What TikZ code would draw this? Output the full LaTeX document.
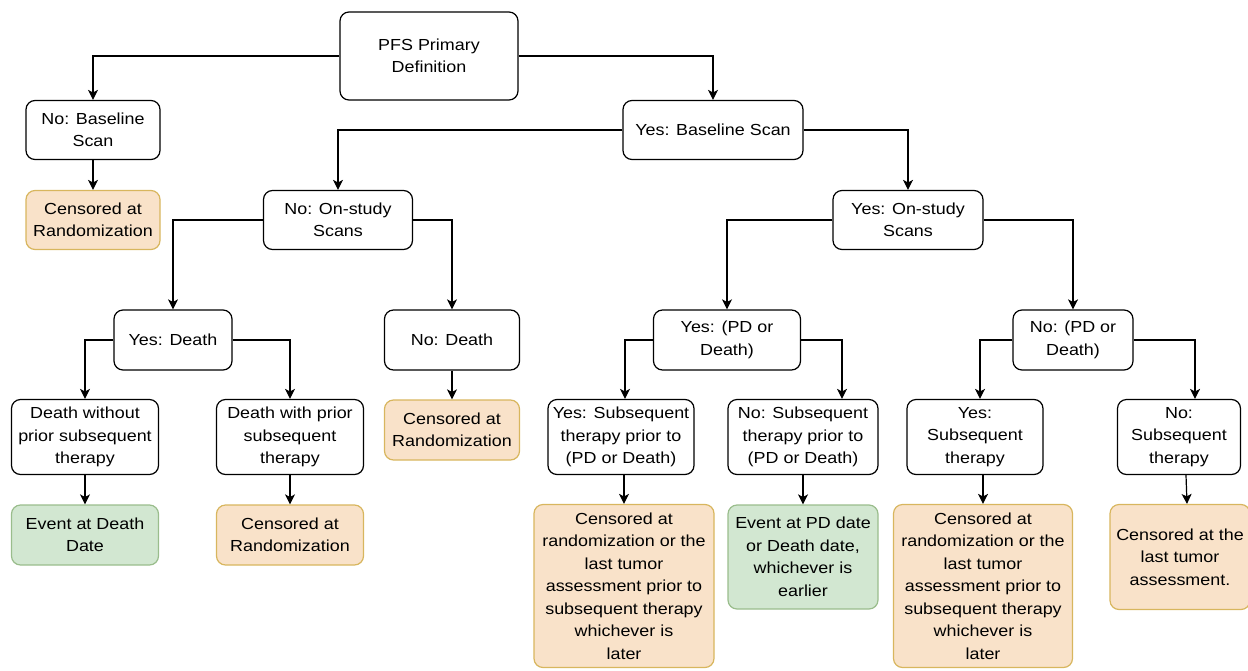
\documentclass[tikz,border=0pt]{standalone}
\usepackage{fontspec}
\setmainfont{Liberation Sans}[FakeStretch=1.12]
\usetikzlibrary{arrows.meta}
\definecolor{censfill}{HTML}{F9E2C9}
\definecolor{censline}{HTML}{D8B65E}
\definecolor{evtfill}{HTML}{D2E7D1}
\definecolor{evtline}{HTML}{9ABD8C}

\begin{document}
\begin{tikzpicture}[x=1pt, y=-1pt,
  box/.style={draw, line width=1.2pt, rounded corners=9pt, align=center, inner sep=0pt,
    fill=white, font=\fontsize{16}{22.5}\selectfont},
  cens/.style={box, draw=censline, fill=censfill},
  evt/.style={box, draw=evtline, fill=evtfill},
  arr/.style={line width=1.2pt, -{Stealth[length=10pt,width=10pt,inset=2.5pt]}}]
  \useasboundingbox (0,0) rectangle (1248,670);

  \node[box, minimum width=178pt, minimum height=88pt] (pfs) at (429,56) {PFS Primary\\Definition};
  \node[box, minimum width=134pt, minimum height=59pt] (nbs) at (93,130) {No: Baseline\\Scan};
  \node[cens, minimum width=134pt, minimum height=59pt] (c1) at (93,220) {Censored at\\Randomization};
  \node[box, minimum width=180pt, minimum height=59pt] (ybs) at (713,130) {Yes: Baseline Scan};
  \node[box, minimum width=149pt, minimum height=59pt] (nos) at (338,220) {No: On-study\\Scans};
  \node[box, minimum width=150pt, minimum height=59pt] (yos) at (908,220) {Yes: On-study\\Scans};

  % left branch
  \node[box, minimum width=118pt, minimum height=60pt] (yd) at (173,340) {Yes: Death};
  \node[box, minimum width=135pt, minimum height=60pt] (nd) at (452,340) {No: Death};
  \node[box, minimum width=147pt, minimum height=75pt] (dwo) at (85,437) {Death without\\prior subsequent\\therapy};
  \node[box, minimum width=147pt, minimum height=75pt] (dw) at (290,437) {Death with prior\\subsequent\\therapy};
  \node[cens, minimum width=135pt, minimum height=60pt] (c2) at (452,430) {Censored at\\Randomization};
  \node[evt, minimum width=147pt, minimum height=60pt] (e1) at (85,535) {Event at Death\\Date};
  \node[cens, minimum width=147pt, minimum height=60pt] (c3) at (290,535) {Censored at\\Randomization};

  % right branch
  \node[box, minimum width=147pt, minimum height=60pt] (ypd) at (727,340) {Yes: (PD or\\Death)};
  \node[box, minimum width=120pt, minimum height=60pt] (npd) at (1073,340) {No: (PD or\\Death)};
  \node[box, minimum width=146pt, minimum height=75pt] (ysp) at (621,437) {Yes: Subsequent\\therapy prior to\\(PD or Death)};
  \node[box, minimum width=150pt, minimum height=75pt] (nsp) at (803,437) {No: Subsequent\\therapy prior to\\(PD or Death)};
  \node[box, minimum width=136pt, minimum height=75pt] (yst) at (975,437) {Yes:\\Subsequent\\therapy};
  \node[box, minimum width=123pt, minimum height=75pt] (nst) at (1179,437) {No:\\Subsequent\\therapy};
  \node[cens, minimum width=180pt, minimum height=163pt] (c4) at (624,586) {Censored at\\randomization or the\\last tumor\\assessment prior to\\subsequent therapy\\whichever is\\later};
  \node[evt, minimum width=150pt, minimum height=104pt] (e2) at (803,557) {Event at PD date\\or Death date,\\whichever is\\earlier};
  \node[cens, minimum width=179pt, minimum height=163pt] (c5) at (983,586) {Censored at\\randomization or the\\last tumor\\assessment prior to\\subsequent therapy\\whichever is\\later};
  \node[cens, minimum width=140pt, minimum height=105pt] (c6) at (1180,557) {Censored at the\\last tumor\\assessment.};

  \draw[arr] (pfs.west) -| (nbs);
  \draw[arr] (pfs.east) -| (ybs);
  \draw[arr] (nbs) -- (c1);
  \draw[arr] (ybs.west) -| (nos);
  \draw[arr] (ybs.east) -| (yos);
  \draw[arr] (nos.west) -| (yd);
  \draw[arr] (nos.east) -| (nd);
  \draw[arr] (yd.west) -| (dwo);
  \draw[arr] (yd.east) -| (dw);
  \draw[arr] (nd) -- (c2);
  \draw[arr] (dwo) -- (e1);
  \draw[arr] (dw) -- (c3);
  \draw[arr] (yos.west) -| (ypd);
  \draw[arr] (yos.east) -| (npd);
  \draw[arr] (ypd.west) -| ([xshift=4pt]ysp.north);
  \draw[arr] (ypd.east) -| ([xshift=39pt]nsp.north);
  \draw[arr] (npd.west) -| ([xshift=5pt]yst.north);
  \draw[arr] (npd.east) -| ([xshift=16pt]nst.north);
  \draw[arr] (c4.north |- ysp.south) -- (c4);
  \draw[arr] (nsp) -- (e2);
  \draw[arr] (c5.north |- yst.south) -- (c5);
  \draw[arr] ([xshift=7pt]nst.south) -- ([xshift=7pt]c6.north);
\end{tikzpicture}
\end{document}
